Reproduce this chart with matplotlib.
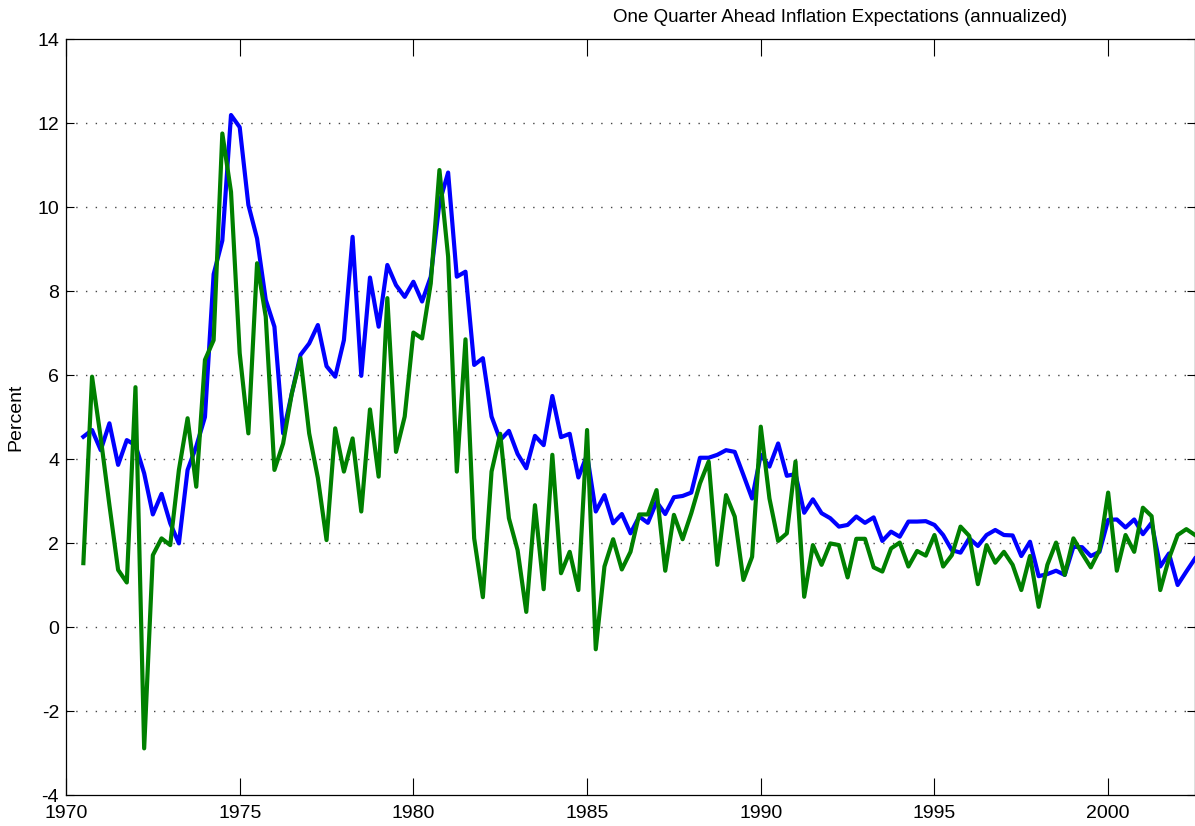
import numpy as np
import matplotlib
matplotlib.use('Agg')
import matplotlib.pyplot as plt

plt.rcParams['font.family'] = ['Liberation Sans', 'DejaVu Sans']
plt.rcParams['axes.unicode_minus'] = False

# quarterly dates, 1970Q3 .. 2002Q3
quarters = np.arange(1970.5, 2002.51, 0.25)

# blue series
blue = [4.53, 4.69, 4.21, 4.85, 3.86, 4.45, 4.33, 3.66, 2.68, 3.17,
        2.47, 1.99, 3.74, 4.30, 5.00, 8.40, 9.20, 12.19, 11.90, 10.05,
        9.25, 7.79, 7.15, 4.61, 5.56, 6.48, 6.75, 7.19, 6.21, 5.96,
        6.83, 9.29, 5.98, 8.32, 7.15, 8.62, 8.14, 7.86, 8.22, 7.75,
        8.34, 10.10, 10.82, 8.34, 8.46, 6.24, 6.40, 5.01, 4.45, 4.67,
        4.12, 3.78, 4.55, 4.33, 5.50, 4.52, 4.60, 3.56, 4.10, 2.75,
        3.14, 2.47, 2.69, 2.23, 2.63, 2.48, 2.98, 2.69, 3.09, 3.12,
        3.20, 4.03, 4.03, 4.10, 4.21, 4.17, 3.62, 3.06, 4.10, 3.82,
        4.37, 3.60, 3.64, 2.72, 3.04, 2.71, 2.59, 2.39, 2.43, 2.63,
        2.48, 2.61, 2.05, 2.27, 2.15, 2.51, 2.51, 2.52, 2.43, 2.19,
        1.83, 1.77, 2.11, 1.93, 2.19, 2.31, 2.19, 2.18, 1.69, 2.03,
        1.21, 1.26, 1.34, 1.24, 1.91, 1.90, 1.69, 1.79, 2.55, 2.56,
        2.37, 2.56, 2.21, 2.48, 1.44, 1.75, 1.00, 1.32, 1.63]

# green series
green = [1.52, 5.96, 4.50, 2.90, 1.36, 1.06, 5.71, -2.89, 1.71, 2.11,
         1.95, 3.74, 4.97, 3.34, 6.36, 6.83, 11.75, 10.36, 6.52, 4.61,
         8.66, 7.39, 3.74, 4.37, 5.56, 6.40, 4.61, 3.55, 2.07, 4.73,
         3.70, 4.49, 2.75, 5.18, 3.58, 7.83, 4.17, 5.01, 7.01, 6.87,
         8.18, 10.88, 8.82, 3.70, 6.85, 2.11, 0.71, 3.70, 4.60, 2.59,
         1.83, 0.36, 2.90, 0.90, 4.10, 1.28, 1.79, 0.88, 4.69, -0.53,
         1.44, 2.09, 1.37, 1.79, 2.68, 2.68, 3.26, 1.34, 2.67, 2.09,
         2.71, 3.42, 3.94, 1.48, 3.14, 2.63, 1.12, 1.67, 4.77, 3.06,
         2.05, 2.23, 3.94, 0.72, 1.95, 1.48, 1.99, 1.95, 1.18, 2.10,
         2.10, 1.42, 1.32, 1.87, 2.01, 1.44, 1.81, 1.70, 2.19, 1.44,
         1.71, 2.39, 2.17, 1.02, 1.95, 1.53, 1.79, 1.48, 0.88, 1.69,
         0.48, 1.48, 2.01, 1.24, 2.11, 1.75, 1.42, 1.83, 3.20, 1.34,
         2.19, 1.79, 2.84, 2.64, 0.88, 1.63, 2.19, 2.33, 2.19]

xticks = [1970, 1975, 1980, 1985, 1990, 1995, 2000]
yticks = [-4, -2, 0, 2, 4, 6, 8, 10, 12, 14]

W, H = 1195, 826
fig = plt.figure(figsize=(W / 100, H / 100), dpi=100)
ax = fig.add_axes([66 / W, 31 / H, (W - 66) / W, (795 - 39) / H])

# dotted horizontal grid (MATLAB style)
for yv in yticks[1:-1]:
    ax.axhline(yv, color='#444444', lw=1.0, ls=(0, (1, 6)), zorder=1)

ax.plot(quarters, blue, color=(0, 0, 1), lw=3, zorder=3)
ax.plot(quarters, green, color=(0, 0.5, 0), lw=3, zorder=4)

ax.set_xlim(1970, 2002.5)
ax.set_ylim(-4, 14)
ax.set_xticks(xticks)
ax.set_yticks(yticks)
ax.tick_params(axis='x', direction='in', length=12, width=0.8, top=True,
               labelsize=14, pad=7)
ax.tick_params(axis='y', direction='in', length=6, width=0.8, right=True,
               labelsize=14, pad=5)
for s in ax.spines.values():
    s.set_linewidth(0.9)

ax.set_ylabel('Percent', fontsize=14, labelpad=9)
fig.text(840 / W, 1 - 17 / H, 'One Quarter Ahead Inflation Expectations (annualized)',
         ha='center', va='center', fontsize=13.5)

fig.savefig('out.png', dpi=100)
